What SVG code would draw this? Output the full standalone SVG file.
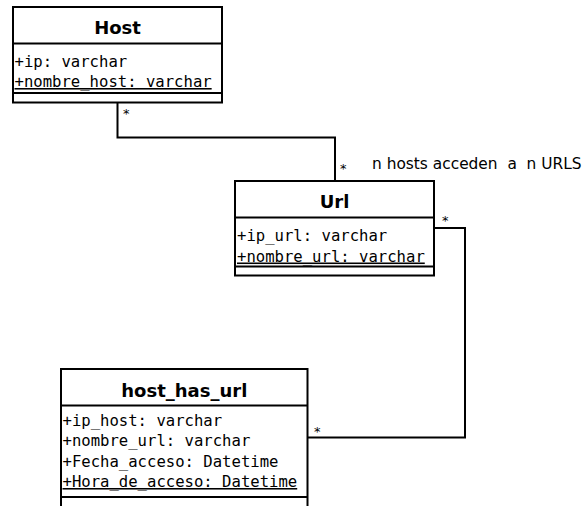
<svg xmlns="http://www.w3.org/2000/svg" width="584" height="506" viewBox="0 0 584 506">
<style>
.box{fill:#fff;stroke:#000;stroke-width:2}
.sep{stroke:#000;stroke-width:2}
.title{font-family:"DejaVu Sans",sans-serif;font-weight:bold;font-size:18px;text-anchor:middle;fill:#000}
.attr{font-family:"DejaVu Sans Mono",monospace;font-size:15.6px;fill:#000}
.u{text-decoration:underline}
.conn{fill:none;stroke:#000;stroke-width:2}
.mult{font-family:"DejaVu Sans",sans-serif;font-size:13px;fill:#000}
.lbl{font-family:"DejaVu Sans",sans-serif;font-size:15.4px;fill:#000}
</style>
<rect width="584" height="506" fill="#fff"/>
<g id="connectors">
<polyline class="conn" points="117.5,103 117.5,137.5 335,137.5 335,181"/>
<polyline class="conn" points="435,228 465,228 465,437.5 308,437.5"/>
<text class="mult" x="123" y="118">*</text>
<text class="mult" x="340" y="173">*</text>
<text class="mult" x="442" y="225">*</text>
<text class="mult" x="314" y="436">*</text>
<text class="lbl" x="372" y="169" xml:space="preserve">n hosts acceden  a  n URLS</text>
</g>
<g id="Host">
<rect class="box" x="13" y="7" width="209" height="95.5"/>
<line class="sep" x1="13" y1="43.5" x2="222" y2="43.5"/>
<line class="sep" x1="13" y1="93" x2="222" y2="93"/>
<text class="title" x="117.5" y="34">Host</text>
<text class="attr" x="14.5" y="66.5">+ip: varchar</text>
<text class="attr u" x="14.5" y="87">+nombre_host: varchar</text>
</g>
<g id="Url">
<rect class="box" x="235" y="181" width="199" height="94.5"/>
<line class="sep" x1="235" y1="217.5" x2="434" y2="217.5"/>
<line class="sep" x1="235" y1="266.5" x2="434" y2="266.5"/>
<text class="title" x="334.5" y="208">Url</text>
<text class="attr" x="237" y="241">+ip_url: varchar</text>
<text class="attr u" x="237" y="261.5">+nombre_url: varchar</text>
</g>
<g id="host_has_url">
<rect class="box" x="61" y="369" width="246.5" height="150"/>
<line class="sep" x1="61" y1="405.5" x2="307.5" y2="405.5"/>
<line class="sep" x1="61" y1="497" x2="307.5" y2="497"/>
<text class="title" x="184.3" y="396.5">host_has_url</text>
<text class="attr" x="62.5" y="425.5">+ip_host: varchar</text>
<text class="attr" x="62.5" y="446">+nombre_url: varchar</text>
<text class="attr" x="62.5" y="466.5">+Fecha_acceso: Datetime</text>
<text class="attr u" x="62.5" y="487">+Hora_de_acceso: Datetime</text>
</g>
</svg>
